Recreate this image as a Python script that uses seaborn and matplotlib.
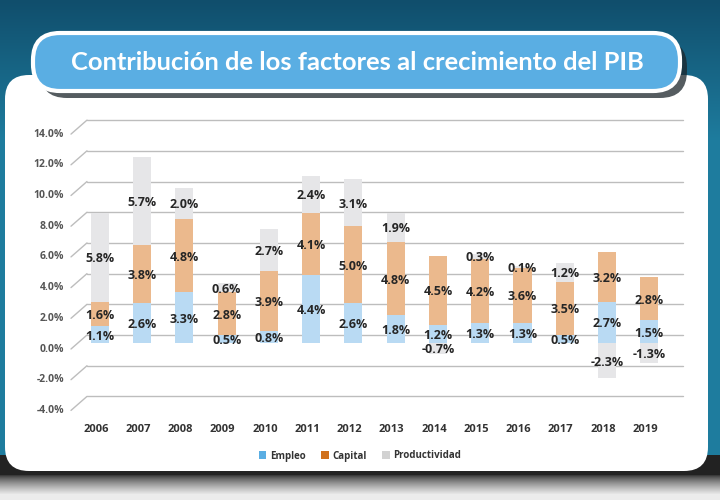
import numpy as np
import pandas as pd
import matplotlib
matplotlib.use("Agg")
import matplotlib.pyplot as plt
import matplotlib.transforms as mtransforms
from matplotlib.patches import FancyBboxPatch, Patch
import seaborn as sns

# ---------------- data ----------------
years = ["2006", "2007", "2008", "2009", "2010", "2011", "2012",
         "2013", "2014", "2015", "2016", "2017", "2018", "2019"]
empleo = [1.1, 2.6, 3.3, 0.5, 0.8, 4.4, 2.6, 1.8, 1.2, 1.3, 1.3, 0.5, 2.7, 1.5]
capital = [1.6, 3.8, 4.8, 2.8, 3.9, 4.1, 5.0, 4.8, 4.5, 4.2, 3.6, 3.5, 3.2, 2.8]
productividad = [5.8, 5.7, 2.0, 0.6, 2.7, 2.4, 3.1, 1.9, -0.7, 0.3, 0.1, 1.2, -2.3, -1.3]
y_ticks = [-4, -2, 0, 2, 4, 6, 8, 10, 12, 14]
series_names = ["Empleo", "Capital", "Productividad"]
title = "Contribución de los factores al crecimiento del PIB"

# ---------------- style ----------------
sns.set_theme(style="white")
FONT = ["Open Sans", "DejaVu Sans"]
plt.rcParams["font.family"] = FONT

c_emp, c_cap, c_prod = "#b9daf3", "#ebb98d", "#e6e6e8"
leg_colors = ["#5aaee3", "#d0701c", "#d2d2d2"]

W, H = 720, 500
fig = plt.figure(figsize=(W / 100, H / 100), dpi=100)

# ---------------- background decoration ----------------
bg = fig.add_axes([0, 0, 1, 1], zorder=0)
bg.set_xlim(0, W)
bg.set_ylim(H, 0)
bg.axis("off")

img = np.zeros((H, W, 3))
top = np.array([0x10, 0x4e, 0x6c]) / 255
mid = np.array([0x1e, 0x7c, 0x9e]) / 255
for r in range(H):
    t = min(r / 140, 1.0)
    img[r] = top * (1 - t) + mid * t
sh_dark = np.array([0x22, 0x22, 0x22]) / 255
sh_light = np.array([0xec, 0xec, 0xec]) / 255
for r in range(455, H):
    t = min(max((r - 474) / 20, 0), 1) ** 0.7
    img[r] = sh_dark * (1 - t) + sh_light * t
bg.imshow(img, extent=[0, W, H, 0], aspect="auto", zorder=0)

panel = FancyBboxPatch((5, 75), 703, 396, boxstyle="round,pad=0,rounding_size=24",
                       fc="white", ec="none", zorder=1)
bg.add_patch(panel)

pill_sh = FancyBboxPatch((40, 40), 647, 58, boxstyle="round,pad=0,rounding_size=27",
                         fc="#1c262b", ec="none", alpha=0.75, zorder=2)
bg.add_patch(pill_sh)
pill = FancyBboxPatch((33, 33), 647, 58, boxstyle="round,pad=0,rounding_size=27",
                      fc="#5aaee3", ec="white", lw=3, zorder=3)
bg.add_patch(pill)
ttl = bg.text(357, 63, title, color="white", fontsize=20, fontweight="bold",
              family=["Lato", "Open Sans", "DejaVu Sans"],
              ha="center", va="center", zorder=4)
# fit title width to the pill (~572 px)
renderer = fig.canvas.get_renderer()
wpx = ttl.get_window_extent(renderer).width
ttl.set_fontsize(20 * 572 / wpx)

# ---------------- chart axes ----------------
px = 15.35  # pixels per 1 %
ax = fig.add_axes([72 / W, 1 - 420 / H, 611 / W, 310 / H], zorder=2)
ax.patch.set_alpha(0)

df = pd.DataFrame({"year": years, "emp": empleo, "cap": capital, "prod": productividad})
df["emp_pos"] = df["emp"].clip(lower=0)
df["cap_top"] = df["emp_pos"] + df["cap"]
df["all_top"] = df["cap_top"] + df["prod"].clip(lower=0)
df["prod_neg"] = df["prod"].clip(upper=0)

bw = 0.43
for col, colr in [("all_top", c_prod), ("cap_top", c_cap), ("emp_pos", c_emp), ("prod_neg", c_prod)]:
    sns.barplot(data=df, x="year", y=col, order=years, color=colr, saturation=1,
                width=bw, errorbar=None, ax=ax, zorder=3, linewidth=0)

ax.set_xlim(-0.66, 13.8)
ax.set_ylim((343 - 420) / px, (343 - 110) / px)
ax.set_xlabel("")
ax.set_ylabel("")
for s in ax.spines.values():
    s.set_visible(False)
ax.set_yticks([])
ax.tick_params(axis="x", length=0, pad=3)
ax.set_xticks(range(len(years)))
ax.set_xticklabels(years, fontsize=8, fontweight="bold", color="#333333")
for lbl in ax.get_xticklabels():
    lbl.set_transform(lbl.get_transform() + mtransforms.Affine2D().translate(-4, 0))

# pseudo-3D gridlines
yt = ax.get_yaxis_transform()
back = mtransforms.offset_copy(yt, fig=fig, x=0, y=8, units="dots")
x0 = (87 - 72) / 611
inv = fig.transFigure.inverted()
for v in y_ticks:
    ax.plot([x0, 1.0], [v, v], transform=back, color="#bdbdbd", lw=1.0,
            clip_on=False, zorder=1)
    p_end = back.transform((x0, v))
    p_start = p_end + np.array([-16, -14])
    a, b = inv.transform(p_start), inv.transform(p_end)
    fig.add_artist(plt.Line2D([a[0], b[0]], [a[1], b[1]], transform=fig.transFigure,
                              color="#bdbdbd", lw=1.0, zorder=1))
    lab = mtransforms.offset_copy(yt, fig=fig, x=-8, y=-6, units="dots")
    ax.text(0, v, f"{v:.1f}%", transform=lab, ha="right", va="center",
            fontsize=7.5, fontweight="bold", color="#555555")

# value labels
for i, yr in enumerate(years):
    e, c, p = empleo[i], capital[i], productividad[i]
    centers = [e / 2, e + c / 2, (e + c + p / 2) if p >= 0 else p / 2]
    for val, cy in zip([e, c, p], centers):
        ax.text(i, cy - 0.1, f"{val:.1f}%", ha="center", va="center",
                fontsize=9, fontweight="bold", color="#262626", zorder=5)

# legend
handles = [Patch(fc=col, ec="none", label=n) for col, n in zip(leg_colors, series_names)]
leg = fig.legend(handles=handles, loc="center", bbox_to_anchor=(360 / W, 1 - 456 / H),
                 ncol=3, frameon=False, handlelength=0.8, handleheight=0.8,
                 handletextpad=0.35, columnspacing=1.6,
                 prop={"family": FONT, "weight": "bold", "size": 7})
for t in leg.get_texts():
    t.set_color("#333333")

fig.savefig("out.png", dpi=100)
